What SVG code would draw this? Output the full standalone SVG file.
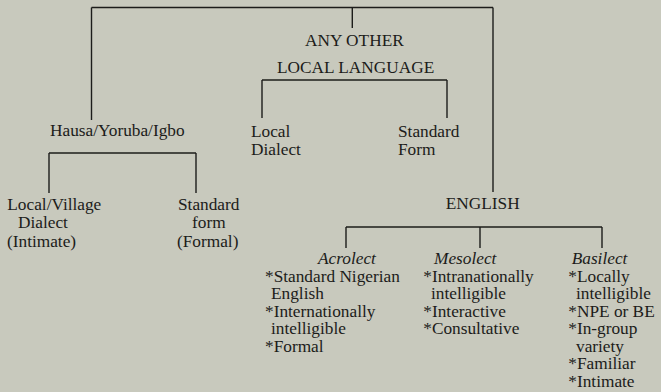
<svg xmlns="http://www.w3.org/2000/svg" width="661" height="392" viewBox="0 0 661 392">
<style>
text{font-family:"Liberation Serif","Times New Roman",serif;font-size:17.3px;fill:#1c1c1a}
.i{font-style:italic}
.c line{stroke:#1c1c1a;stroke-width:1.4}
</style>
<rect width="661" height="392" fill="#c8c9bd"/>
<g class="c" id="connectors">
<line x1="91.5" y1="7.5" x2="493" y2="7.5"/>
<line x1="91.5" y1="7.5" x2="91.5" y2="120"/>
<line x1="352.3" y1="7.5" x2="352.3" y2="28"/>
<line x1="493" y1="7.5" x2="493" y2="192"/>
<line x1="262" y1="80" x2="447" y2="80"/>
<line x1="262" y1="80" x2="262" y2="118"/>
<line x1="447" y1="80" x2="447" y2="118"/>
<line x1="49" y1="153" x2="196" y2="153"/>
<line x1="49" y1="153" x2="49" y2="193"/>
<line x1="196" y1="153" x2="196" y2="193"/>
<line x1="346" y1="227" x2="602" y2="227"/>
<line x1="346" y1="227" x2="346" y2="248"/>
<line x1="480" y1="227" x2="480" y2="248"/>
<line x1="602" y1="227" x2="602" y2="248"/>
</g>
<g id="any-other">
<text x="305" y="46">ANY OTHER</text>
<text x="277" y="73">LOCAL LANGUAGE</text>
</g>
<g id="hausa"><text x="50" y="136">Hausa/Yoruba/Igbo</text></g>
<g id="local-dialect"><text x="251" y="137">Local</text><text x="251" y="155">Dialect</text></g>
<g id="standard-form"><text x="398" y="137">Standard</text><text x="398" y="155">Form</text></g>
<g id="local-village">
<text x="7.3" y="210">Local/Village</text>
<text x="18" y="228">Dialect</text>
<text x="7" y="246.5">(Intimate)</text>
</g>
<g id="standard-formal">
<text x="178" y="210">Standard</text>
<text x="192" y="228">form</text>
<text x="177" y="246.5">(Formal)</text>
</g>
<g id="english"><text x="445.7" y="209">ENGLISH</text></g>
<g id="acrolect">
<text class="i" x="318" y="264">Acrolect</text>
<text x="265" y="281.5">*Standard Nigerian</text>
<text x="271" y="299">English</text>
<text x="265" y="316.5">*Internationally</text>
<text x="271" y="334">intelligible</text>
<text x="265" y="351.5">*Formal</text>
</g>
<g id="mesolect">
<text class="i" x="434" y="264">Mesolect</text>
<text x="423.3" y="281.5">*Intranationally</text>
<text x="431" y="299">intelligible</text>
<text x="423.3" y="316.5">*Interactive</text>
<text x="423.3" y="334">*Consultative</text>
</g>
<g id="basilect">
<text class="i" x="571.7" y="264">Basilect</text>
<text x="568.3" y="281.5">*Locally</text>
<text x="576" y="299">intelligible</text>
<text x="568.3" y="316.5">*NPE or BE</text>
<text x="568.3" y="334">*In-group</text>
<text x="576" y="351.5">variety</text>
<text x="568.3" y="369">*Familiar</text>
<text x="568.3" y="386.5">*Intimate</text>
</g>
</svg>
